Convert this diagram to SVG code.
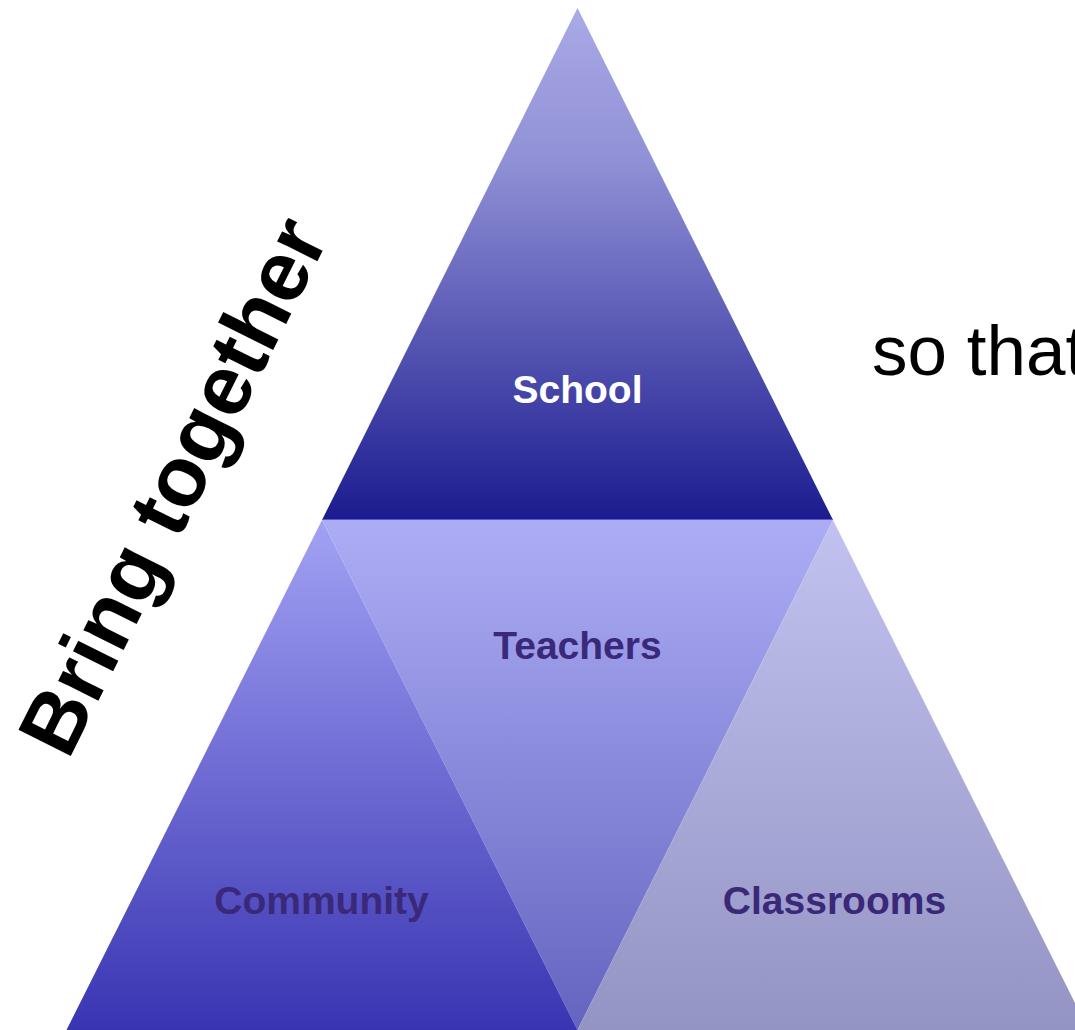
<svg xmlns="http://www.w3.org/2000/svg" width="1075" height="1030" viewBox="0 0 1075 1030">
  <style>
    .lbl { font-family: "Liberation Sans", Arial, sans-serif; font-weight: bold; font-size: 39px; text-anchor: middle; fill: #3a2878; }
    .white { fill: #ffffff; }
    .big { font-family: "Liberation Sans", Arial, sans-serif; fill: #000000; }
  </style>
  <defs>
    <linearGradient id="gTop" x1="0" y1="8" x2="0" y2="520" gradientUnits="userSpaceOnUse">
      <stop offset="0" stop-color="#aaaae6"/>
      <stop offset="0.3" stop-color="#9090d6"/>
      <stop offset="1" stop-color="#1b1b8f"/>
    </linearGradient>
    <linearGradient id="gLeft" x1="0" y1="520" x2="0" y2="1030" gradientUnits="userSpaceOnUse">
      <stop offset="0" stop-color="#a2a2f4"/>
      <stop offset="1" stop-color="#3934b2"/>
    </linearGradient>
    <linearGradient id="gMid" x1="0" y1="520" x2="0" y2="1030" gradientUnits="userSpaceOnUse">
      <stop offset="0" stop-color="#adadf6"/>
      <stop offset="1" stop-color="#6464c0"/>
    </linearGradient>
    <linearGradient id="gRight" x1="0" y1="520" x2="0" y2="1030" gradientUnits="userSpaceOnUse">
      <stop offset="0" stop-color="#c2c2f0"/>
      <stop offset="1" stop-color="#9494c4"/>
    </linearGradient>
  </defs>

  <g id="teachers">
    <polygon points="322,520 833,520 577.5,1030" fill="url(#gMid)"/>
    <text class="lbl" x="577.5" y="659">Teachers</text>
  </g>
  <g id="community">
    <polygon points="322,520 577.5,1030 66.5,1030" fill="url(#gLeft)"/>
    <text class="lbl" x="321.5" y="914">Community</text>
  </g>
  <g id="classrooms">
    <polygon points="833,520 1088.5,1030 577.5,1030" fill="url(#gRight)"/>
    <text class="lbl" x="834.5" y="914">Classrooms</text>
  </g>
  <g id="school">
    <polygon points="577.5,8 833,520 322,520" fill="url(#gTop)"/>
    <line x1="322" y1="519.5" x2="833" y2="519.5" stroke="#5858cc" stroke-width="1"/>
    <text class="lbl white" x="577.5" y="403">School</text>
  </g>

  <g id="connectors"></g>

  <g id="labels">
    <text class="big" x="199" y="499" font-size="85" font-weight="bold" text-anchor="middle" transform="rotate(-63.5 199 499)">Bring together</text>
    <text class="big" x="872" y="375" font-size="71">so that</text>
  </g>
</svg>
